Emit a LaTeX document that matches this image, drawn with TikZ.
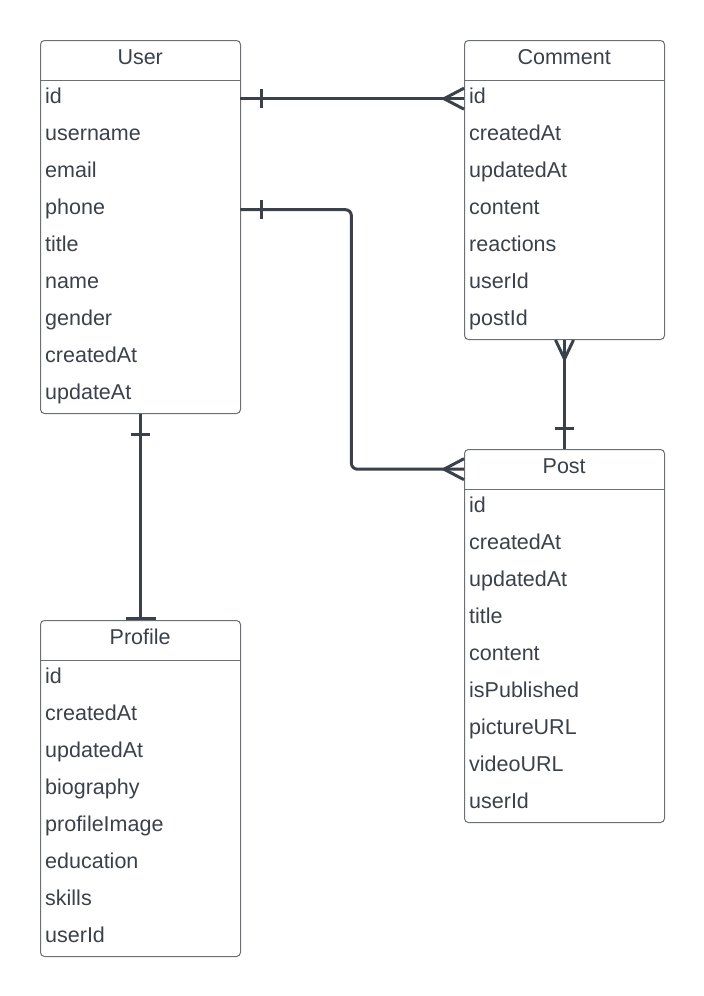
\documentclass[tikz,border=0pt]{standalone}
\usepackage{fontspec}
\setmainfont{Liberation Sans}
\definecolor{ink}{HTML}{3A414A}
\definecolor{frame}{HTML}{6B7077}
\begin{document}
\begin{tikzpicture}[x=1pt,y=-1pt,
  font=\fontsize{21.5}{24}\selectfont, text=ink,
  box/.style={draw=frame,line width=1pt,rounded corners=4pt,minimum width=200pt,anchor=north west,inner sep=0pt},
  head/.style={minimum width=200pt,minimum height=40pt,anchor=north west,inner sep=0pt,text height=15pt,text depth=6pt},
  field/.style={minimum height=37pt,anchor=north west,inner xsep=5pt,inner ysep=0pt,text width=190pt,align=left,text height=15pt,text depth=6pt},
  rel/.style={draw=ink,line width=3pt}]
\useasboundingbox (0,0) rectangle (704,996);
% User
\node[box,minimum height=373pt] (user) at (40,40) {};
\node[head] (user-head) at (40,40) {User};
\draw[frame] (40,80) -- (240,80);
\foreach \f [count=\i from 0] in {id,username,email,phone,title,name,gender,createdAt,updateAt}
  \node[field] (user-\f) at (40,{80+37*\i}) {\f};
% Comment
\node[box,minimum height=299pt] (comment) at (464,40) {};
\node[head] (comment-head) at (464,40) {Comment};
\draw[frame] (464,80) -- (664,80);
\foreach \f [count=\i from 0] in {id,createdAt,updatedAt,content,reactions,userId,postId}
  \node[field] (comment-\f) at (464,{80+37*\i}) {\f};
% Post
\node[box,minimum height=373pt] (post) at (464,449) {};
\node[head] (post-head) at (464,449) {Post};
\draw[frame] (464,489) -- (664,489);
\foreach \f [count=\i from 0] in {id,createdAt,updatedAt,title,content,isPublished,pictureURL,videoURL,userId}
  \node[field] (post-\f) at (464,{489+37*\i}) {\f};
% Profile
\node[box,minimum height=336pt] (profile) at (40,620) {};
\node[head] (profile-head) at (40,620) {Profile};
\draw[frame] (40,660) -- (240,660);
\foreach \f [count=\i from 0] in {id,createdAt,updatedAt,biography,profileImage,education,skills,userId}
  \node[field] (profile-\f) at (40,{660+37*\i}) {\f};
% User - Comment
\draw[rel] (user-id.east) -- (comment-id.west);
\draw[rel] ([xshift=21pt,yshift=9.5pt]user-id.east) -- ([xshift=21pt,yshift=-9.5pt]user-id.east);
\draw[rel] ([yshift=10.5pt]comment-id.west) -- ([xshift=-20pt]comment-id.west) -- ([yshift=-10.5pt]comment-id.west);
% User - Post
\draw[rel,rounded corners=6pt] (user-phone.east) -- ++(111,0) |- (post-head.west);
\draw[rel] ([xshift=21pt,yshift=9.5pt]user-phone.east) -- ([xshift=21pt,yshift=-9.5pt]user-phone.east);
\draw[rel] ([yshift=10.5pt]post-head.west) -- ([xshift=-20pt]post-head.west) -- ([yshift=-10.5pt]post-head.west);
% Comment - Post
\draw[rel] (comment.south) -- (post.north);
\draw[rel] ([xshift=-9pt]comment.south) -- ([yshift=-19pt]comment.south) -- ([xshift=9pt]comment.south);
\draw[rel] ([xshift=-9.5pt,yshift=21pt]post.north) -- ([xshift=9.5pt,yshift=21pt]post.north);
% User - Profile
\draw[rel] (user.south) -- (profile.north);
\draw[rel] ([xshift=-9.5pt,yshift=-20pt]user.south) -- ([xshift=9.5pt,yshift=-20pt]user.south);
\draw[rel] ([xshift=-15pt,yshift=1.5pt]profile.north) -- ([xshift=15pt,yshift=1.5pt]profile.north);
\end{tikzpicture}
\end{document}
